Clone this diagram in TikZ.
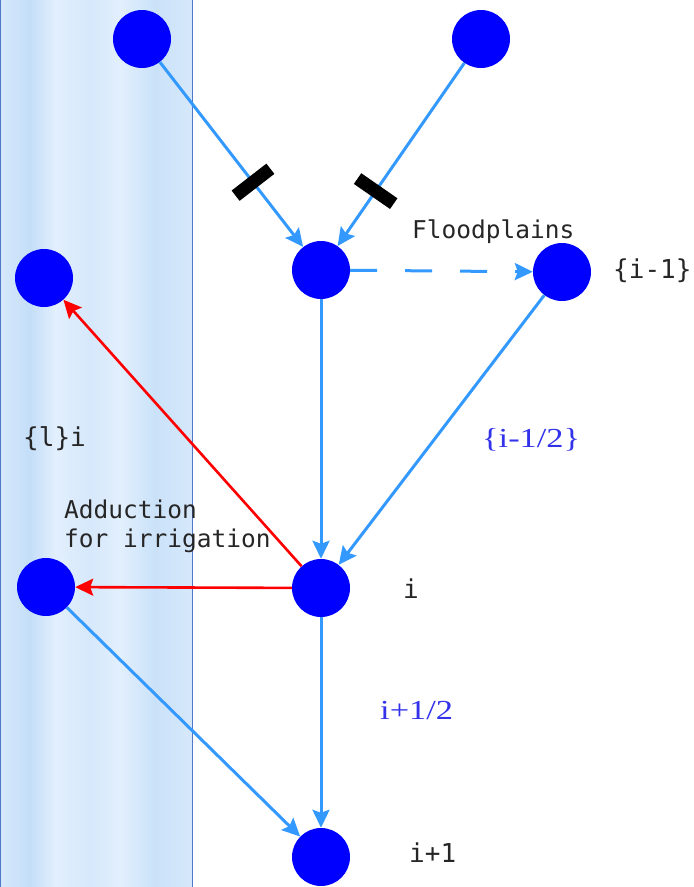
\documentclass[tikz,border=0pt]{standalone}
\usepackage{fontspec}
\newfontfamily\monof{DejaVu Sans Mono}
\newfontfamily\seriff[FakeStretch=1.25]{Liberation Serif}
\usetikzlibrary{arrows.meta}
\definecolor{nodeblue}{RGB}{0,0,255}
\definecolor{linkblue}{RGB}{51,153,255}
\definecolor{labelblue}{RGB}{50,50,235}
\definecolor{bandA}{RGB}{214,232,251}
\definecolor{bandB}{RGB}{196,222,248}
\definecolor{bandC}{RGB}{226,239,253}
\definecolor{bandD}{RGB}{202,226,249}
\definecolor{bandedge}{RGB}{80,120,200}
\tikzset{
  station/.style={circle, fill=nodeblue, draw=none, minimum size=58pt, inner sep=0pt},
  flow/.style={draw=linkblue, line width=3pt, -{Stealth[length=18pt,width=17pt,inset=3pt]}},
  dashflow/.style={flow, dash pattern=on 27pt off 28pt},
  takeoff/.style={draw=red, line width=2.6pt, -{Stealth[length=18pt,width=17pt,inset=3pt]}},
  gate/.style={rectangle, fill=black, minimum width=13pt, minimum height=44pt, inner sep=0pt, sloped},
  monolabel/.style={font=\monof\fontsize{26}{30}\selectfont, text=black!85, inner sep=0pt},
  smallmono/.style={font=\monof\fontsize{24.5}{29}\selectfont, text=black!85, inner sep=0pt},
  bluelabel/.style={font=\seriff\fontsize{27.5}{30}\selectfont, text=labelblue, inner sep=0pt}
}
\begin{document}
\begin{tikzpicture}[x=1pt,y=-1pt]
\useasboundingbox (0,0) rectangle (694,887);
% river band
\shade[left color=bandA, right color=bandB] (0,0) rectangle (30,887);
\shade[left color=bandB, right color=bandC] (30,0) rectangle (55,887);
\shade[left color=bandC, right color=bandA] (55,0) rectangle (90,887);
\shade[left color=bandA, right color=bandC] (90,0) rectangle (120,887);
\shade[left color=bandC, right color=bandD] (120,0) rectangle (155,887);
\shade[left color=bandD, right color=bandA] (155,0) rectangle (192,887);
\draw[bandedge, line width=1pt] (0.5,0) -- (0.5,887);
\draw[bandedge, line width=1pt] (192,0) -- (192,887);
% stations
\node[station] (tl) at (142,39) {};
\node[station] (tr) at (481,39) {};
\node[station] (c) at (321,270) {};
\node[station] (r) at (562,272) {};
\node[station] (lu) at (44,278) {};
\node[station] (i) at (321,588) {};
\node[station] (ll) at (46,587) {};
\node[station] (ip) at (321,857) {};
% connectors
\draw[flow] (tl) -- (c);
\draw[flow] (tr) -- (c);
\path (tl) -- (c) node[gate, pos=0.65] {};
\path (tr) -- (c) node[gate, pos=0.70] {};
\draw[dashflow] (c) -- (r);
\draw[flow] (c) -- (i);
\draw[flow] (r) -- (i);
\draw[takeoff] (i) -- (lu);
\draw[takeoff] (i) -- (ll);
\draw[flow] (ll) -- (ip);
\draw[flow] (i) -- (ip);
% labels
\node[smallmono, anchor=base west] (fp) at (412,238) {Floodplains};
\node[monolabel, anchor=base west] (lim1) at (613,278) {\{i-1\}};
\node[monolabel, anchor=base west] (li) at (23,446) {\{l\}i};
\node[smallmono, anchor=base west] (ad1) at (64,518) {Adduction};
\node[smallmono, anchor=base west] (ad2) at (64,547) {for irrigation};
\node[bluelabel, anchor=base west] (lhalf) at (482,447) {\{i-1/2\}};
\node[monolabel, anchor=base] (lii) at (411,598) {i};
\node[bluelabel, anchor=base west] (lhalf2) at (380,719) {i+1/2};
\node[monolabel, anchor=base west] (lip) at (409,862) {i+1};
\end{tikzpicture}
\end{document}
